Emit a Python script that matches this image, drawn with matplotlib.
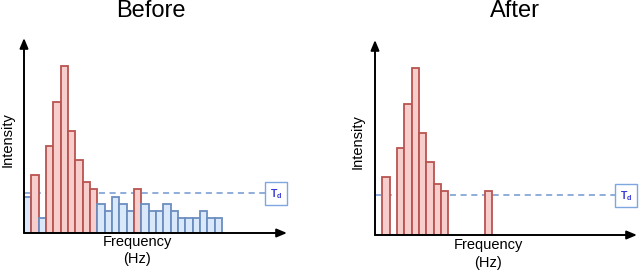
import numpy as np
import matplotlib
matplotlib.use("Agg")
import matplotlib.pyplot as plt

plt.rcParams['font.family'] = ['Liberation Sans', 'DejaVu Sans']

# bar heights before filtering (one bar per frequency bin)
before_heights = [5, 8, 2, 12, 18, 23, 14, 10, 7, 6, 4, 3, 5, 4, 3, 6, 4, 3, 3, 4, 3, 2, 2, 2, 3, 2, 2]
# which bins are kept (above threshold / in peak)
kept = [0, 1, 0, 1, 1, 1, 1, 1, 1, 1, 0, 0, 0, 0, 0, 1, 0, 0, 0, 0, 0, 0, 0, 0, 0, 0, 0]
threshold = 5.55

red_fc, red_ec = '#f8cecc', '#b85450'
blue_fc, blue_ec = '#dae8fc', '#6c8ebf'

W, H = 640, 272
fig = plt.figure(figsize=(W / 100, H / 100), dpi=100)


def px(x, y):
    # image pixel coords (y from top) -> figure fraction
    return x / W, 1 - y / H


def make_axes(x0, y0, x1, y1):
    fx, fy = px(x0, y0)
    ax = fig.add_axes([fx, fy, (x1 - x0) / W, (y0 - y1) / H])
    ax.set_xlim(0, (x1 - x0) / 7.33)
    ax.set_ylim(0, (y0 - y1) / 7.27)
    ax.axis('off')
    return ax


def draw_frame(ax, box_x):
    xmax = ax.get_xlim()[1]
    ymax = ax.get_ylim()[1]
    arrow = dict(arrowstyle='-|>,head_length=0.6,head_width=0.25', color='black', lw=1.4, shrinkA=0, shrinkB=0)
    ax.annotate('', xy=(xmax, 0), xytext=(0, 0), arrowprops=arrow, annotation_clip=False)
    ax.annotate('', xy=(0, ymax), xytext=(0, 0), arrowprops=arrow, annotation_clip=False)
    ax.plot([0, box_x], [threshold, threshold], ls=(0, (4, 3)), color='#7097cf', lw=1.1, zorder=1)
    ax.text(box_x + (xmax - box_x) / 2, threshold - 0.15, r'T$_\mathregular{d}$', color='#3a3ad6',
            fontsize=7.5, fontweight='bold', ha='center', va='center',
            bbox=dict(boxstyle='square,pad=0.45', fc='white', ec='#7ea6e0', lw=1))


x = np.arange(len(before_heights))

# Before
ax1 = make_axes(24, 233, 287, 38)
colors = [red_fc if k else blue_fc for k in kept]
edges = [red_ec if k else blue_ec for k in kept]
ax1.bar(x, before_heights, width=1, align='edge', color=colors, edgecolor=edges, lw=1.3, zorder=2)
draw_frame(ax1, 32.9)

# After
ax2 = make_axes(375, 235, 637, 40)
after_x = [i for i in x if kept[i]]
after_h = [before_heights[i] for i in x if kept[i]]
ax2.bar(after_x, after_h, width=1, align='edge', color=red_fc, edgecolor=red_ec, lw=1.3, zorder=2)
draw_frame(ax2, 32.8)

fig.text(*px(151, 11), 'Before', fontsize=17, ha='center', va='center')
fig.text(*px(515, 11), 'After', fontsize=17, ha='center', va='center')

fig.text(*px(8, 140), 'Intensity', fontsize=10.5, rotation=90, ha='center', va='center')
fig.text(*px(358, 142), 'Intensity', fontsize=10.5, rotation=90, ha='center', va='center')
fig.text(*px(137, 242), 'Frequency', fontsize=10.5, ha='center', va='center')
fig.text(*px(137, 259), '(Hz)', fontsize=10.5, ha='center', va='center')
fig.text(*px(488, 245), 'Frequency', fontsize=10.5, ha='center', va='center')
fig.text(*px(488, 263), '(Hz)', fontsize=10.5, ha='center', va='center')

fig.savefig('out.png', dpi=100)
